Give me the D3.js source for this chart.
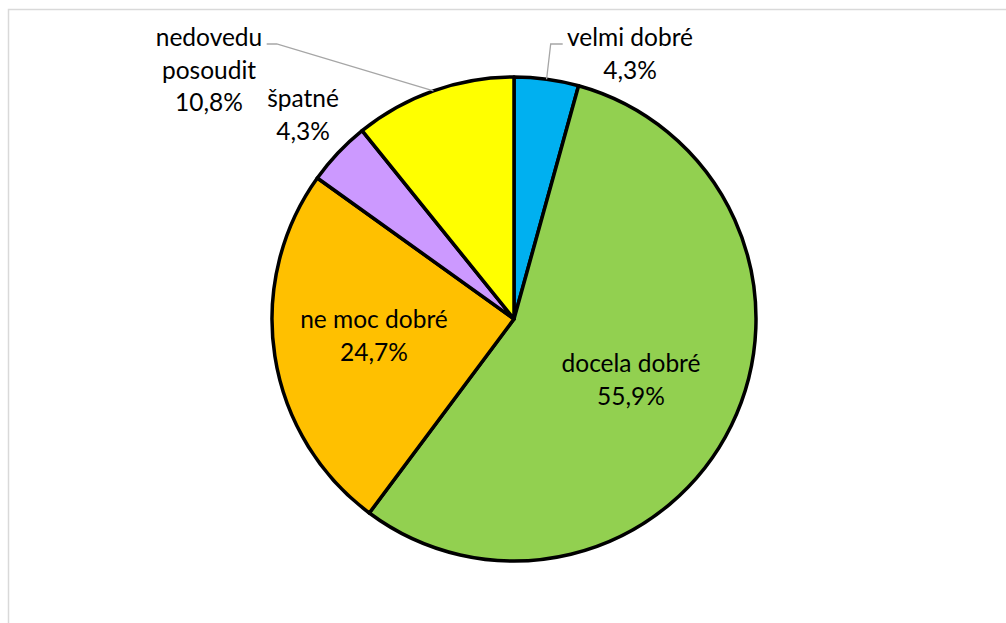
<!DOCTYPE html>
<html>
<head>
<meta charset="utf-8">
<script src="https://cdn.jsdelivr.net/npm/d3@7"></script>
<style>
  body { margin: 0; background: #fff; }
  text { font-family: Lato, "Open Sans", sans-serif; font-size: 24.5px; fill: #000; }
</style>
</head>
<body>
<div id="chart"></div>
<script>
// data
var categories = ["velmi dobré", "docela dobré", "ne moc dobré", "špatné", "nedovedu posoudit"];
var values = [4.3, 55.9, 24.7, 4.3, 10.8];
var colors = ["#00B0F0", "#92D050", "#FFC000", "#CC99FF", "#FFFF00"];
// label text lines (first lines), percent printed below
var labelLines = [["velmi dobré"], ["docela dobré"], ["ne moc dobré"], ["špatné"], ["nedovedu", "posoudit"]];

var width = 1006,
    height = 623;

var cx = 514, cy = 319, radius = 242;

// label placement (centre x, first baseline y) and leader elbows
var labelPos = [[630, 46], [631, 372], [374, 328], [303, 107], [209, 46]];
var leaders = { 0: [[550.7, 44], [562.7, 44]], 4: [[276.7, 44], [266.7, 44]] };

var svg = d3.select("#chart").append("svg")
    .attr("width", width)
    .attr("height", height);

// chart frame (only top/left visible)
svg.append("rect")
    .attr("x", 8.5).attr("y", 9.5)
    .attr("width", 1100).attr("height", 700)
    .attr("fill", "none")
    .attr("stroke", "#D9D9D9")
    .attr("stroke-width", 1.5);

var pie = d3.pie().sort(null).value(function(d) { return d; });
var arcs = pie(values);

var arc = d3.arc().innerRadius(0).outerRadius(radius);

var g = svg.append("g").attr("transform", "translate(" + cx + "," + cy + ")");

g.selectAll("path.slice")
    .data(arcs)
    .enter().append("path")
      .attr("class", "slice")
      .attr("d", arc)
      .attr("fill", function(d, i) { return colors[i]; })
      .attr("stroke", "#000")
      .attr("stroke-width", 3.5)
      .attr("stroke-linejoin", "round");

// leader lines
var fmt = function(v) { return d3.format(".1f")(v).replace(".", ",") + "%"; };

arcs.forEach(function(d, i) {
  if (!leaders[i]) return;
  var a = (d.startAngle + d.endAngle) / 2;
  var start = [cx + radius * Math.sin(a), cy - radius * Math.cos(a)];
  var pts = [start].concat(leaders[i]);
  svg.append("path")
      .attr("d", d3.line()(pts))
      .attr("fill", "none")
      .attr("stroke", "#A6A6A6")
      .attr("stroke-width", 1.3);
});

// labels
arcs.forEach(function(d, i) {
  var lines = labelLines[i].concat([fmt(values[i])]);
  var t = svg.append("text")
      .attr("text-anchor", "middle")
      .attr("x", labelPos[i][0])
      .attr("y", labelPos[i][1]);
  lines.forEach(function(l, j) {
    t.append("tspan")
        .attr("x", labelPos[i][0])
        .attr("dy", j === 0 ? 0 : 32.5)
        .text(l);
  });
});
</script>
</body>
</html>
